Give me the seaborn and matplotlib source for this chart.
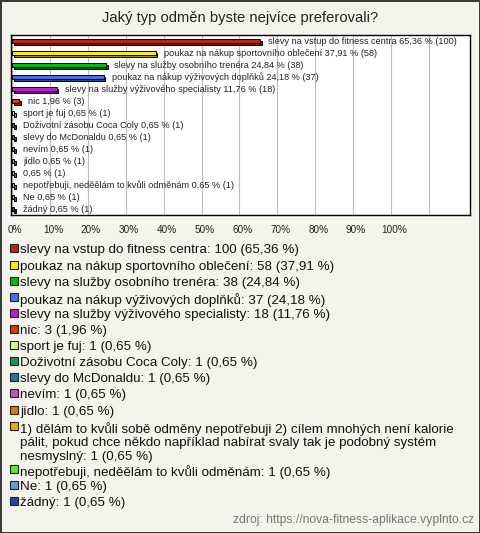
import matplotlib
matplotlib.use("Agg")
import matplotlib.pyplot as plt
import matplotlib.patheffects as pe
from matplotlib.patches import Rectangle
from matplotlib.transforms import ScaledTranslation
import matplotlib.colors as mcolors
import seaborn as sns
import pandas as pd

# ---- data ----
categories = [
    "slevy na vstup do fitness centra",
    "poukaz na nákup sportovního oblečení",
    "slevy na služby osobního trenéra",
    "poukaz na nákup výživových doplňků",
    "slevy na služby výživového specialisty",
    "nic",
    "sport je fuj",
    "Doživotní zásobu Coca Coly",
    "slevy do McDonaldu",
    "nevím",
    "jídlo",
    "1) dělám to kvůli sobě odměny nepotřebuji 2) cílem mnohých není kalorie pálit, pokud chce někdo například nabírat svaly tak je podobný systém nesmyslný",
    "nepotřebuji, neděělám to kvůli odměnám",
    "Ne",
    "žádný",
]
counts = [100, 58, 38, 37, 18, 3, 1, 1, 1, 1, 1, 1, 1, 1, 1]
percents = [65.36, 37.91, 24.84, 24.18, 11.76, 1.96, 0.65, 0.65, 0.65, 0.65, 0.65, 0.65, 0.65, 0.65, 0.65]
colors = ["#c41f0f", "#ffee00", "#00bb11", "#4470e6", "#bb1ccc", "#dd3a0a",
          "#ccff88", "#119955", "#22778f", "#bb55bb", "#dd7711", "#eeaa00",
          "#55ee33", "#6699dd", "#2244aa"]
tick_values = [0, 10, 20, 30, 40, 50, 60, 70, 80, 90, 100]
title = "Jaký typ odměn byste nejvíce preferovali?"
source = "zdroj: https://nova-fitness-aplikace.vyplnto.cz"
legend_wrapped = {
    11: "1) dělám to kvůli sobě odměny nepotřebuji 2) cílem mnohých není kalorie\npálit, pokud chce někdo například nabírat svaly tak je podobný systém\nnesmyslný",
}

def fmt(v):
    return f"{v:.2f}".replace(".", ",")

df = pd.DataFrame({"cat": categories, "pct": percents, "n": counts})

sns.set_theme(style="white")
plt.rcParams["font.family"] = ["Liberation Sans", "DejaVu Sans"]

W, H = 480, 533
fig = plt.figure(figsize=(W / 100, H / 100), dpi=100)
bg = "#f4f4ec"
fig.patch.set_facecolor(bg)
fig.patch.set_edgecolor("#3a3a3a")
fig.patch.set_linewidth(2)

def fx(px):
    return px / W

def fy(py):
    return 1 - py / H

# plot area
L, T, R, B = 11, 35, 470, 215
ax = fig.add_axes([fx(L), fy(B), fx(R) - fx(L), (B - T) / H])
ax.set_facecolor("white")

palette = dict(zip(categories, colors))
sns.barplot(data=df, x="pct", y="cat", hue="cat", palette=palette, orient="h",
            ax=ax, legend=False, width=0.36, edgecolor="black", linewidth=0.7,
            saturation=1)

for patch, c in zip(ax.patches, colors):
    r, g, b = mcolors.to_rgb(c)
    dark = (r * 0.6, g * 0.6, b * 0.6)
    patch.set_path_effects([
        pe.PathPatchEffect(offset=(1.3, -1.3), facecolor=dark, edgecolor="black", linewidth=0.7),
        pe.Normal(),
    ])

# bar labels
for i, (cat, p, n) in enumerate(zip(categories, percents, counts)):
    name = "" if len(cat) > 80 else cat + " "
    ax.annotate(f"{name}{fmt(p)} % ({n})", xy=(p, i), xytext=(6, 0),
                textcoords="offset points", va="center", ha="left",
                fontsize=6.55, color="#222222")

px_per = 3.79
ax.set_xlim(-1 / px_per, (R - L - 1) / px_per)
ax.set_ylim(len(categories) - 0.5, -0.5)
ax.set_xticks(tick_values + [110])
ax.set_xticklabels([f"{v}%" for v in tick_values] + [""], fontsize=7.2, color="#222222")
ax.tick_params(axis="x", length=0, pad=7)
for lbl in ax.get_xticklabels():
    lbl.set_transform(lbl.get_transform() + ScaledTranslation(3 / 100, 0, fig.dpi_scale_trans))
ax.set_yticks([])
ax.set_xlabel("")
ax.set_ylabel("")
ax.grid(axis="x", color="#bdbdbd", linewidth=0.8)
ax.set_axisbelow(True)
for s in ax.spines.values():
    s.set_visible(True)
    s.set_color("black")
    s.set_linewidth(1.0)

# title
fig.text(0.5, fy(18), title, ha="center", va="center", fontsize=10.6, color="#222222")

# legend (manual)
y = 248.5
line_h = 13.7
step = 16.1
for i, (cat, p, n, c) in enumerate(zip(categories, percents, counts, colors)):
    label = legend_wrapped.get(i, cat) + f": {n} ({fmt(p)} %)"
    fig.patches.append(Rectangle((fx(9.5), fy(y + 4)), 8 / W, 8 / H, transform=fig.transFigure,
                                 facecolor=c, edgecolor="#222222", linewidth=0.8))
    fig.text(fx(20), fy(y - 4), label, ha="left", va="top", fontsize=9.6,
             color="#111111", linespacing=1.2)
    nlines = label.count("\n")
    y += step + nlines * line_h

fig.text(fx(474), fy(520), source, ha="right", va="center", fontsize=8.7, color="#777777")

fig.savefig("out.png", dpi=100, facecolor=fig.get_facecolor(), edgecolor=fig.get_edgecolor())
